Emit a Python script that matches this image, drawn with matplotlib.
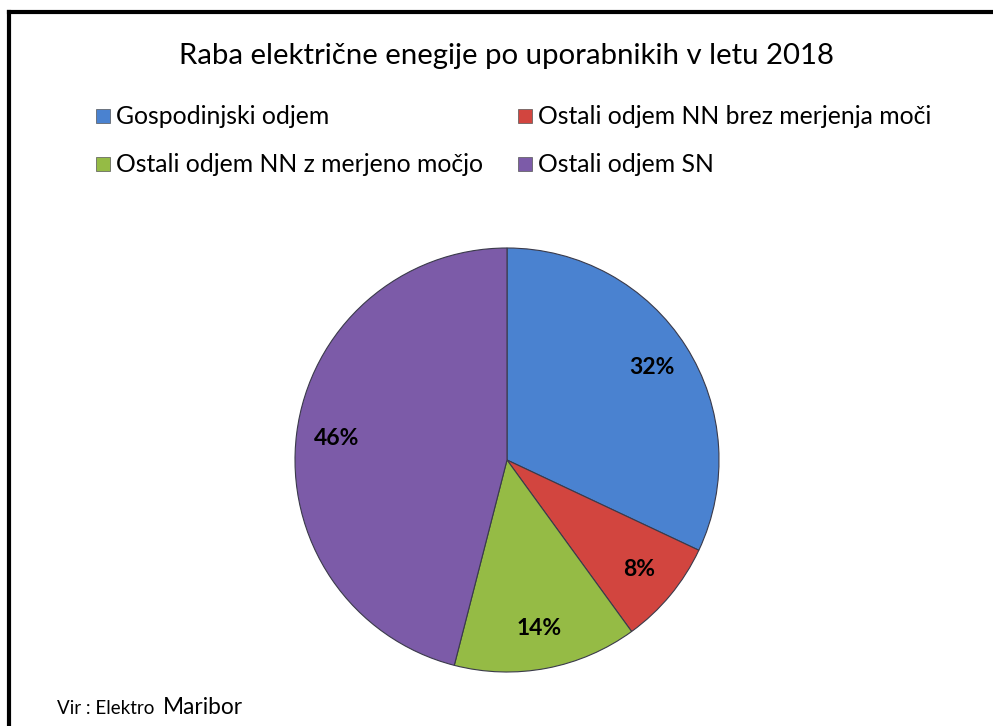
import matplotlib.pyplot as plt
from matplotlib.lines import Line2D
from matplotlib.patches import Rectangle

title = 'Raba električne enegije po uporabnikih v letu 2018'
categories = ['Gospodinjski odjem', 'Ostali odjem NN brez merjenja moči',
              'Ostali odjem NN z merjeno močjo', 'Ostali odjem SN']
shares = [32, 8, 14, 46]
colors = ['#4a82d0', '#d2453f', '#95bb45', '#7c5ba8']

W, H = 993, 726
plt.rcParams['font.family'] = ['Lato', 'DejaVu Sans']

fig = plt.figure(figsize=(W / 100, H / 100), dpi=100)

def fx(px):
    return px / W

def fy(py):
    return 1 - py / H

# frame (only top and left edge visible)
fig.add_artist(Line2D([fx(9), fx(W + 5)], [fy(12), fy(12)], color='black', lw=3, transform=fig.transFigure))
fig.add_artist(Line2D([fx(9), fx(9)], [fy(12), fy(H + 5)], color='black', lw=3, transform=fig.transFigure))

fig.text(fx(507), fy(56), title, ha='center', va='center', fontsize=21.2)

# legend
leg_pos = [(96, 116), (518, 116), (96, 164), (518, 164)]
for (x, y), cat, c in zip(leg_pos, categories, colors):
    fig.add_artist(Rectangle((fx(x), fy(y + 7)), fx(14), 14 / H, facecolor=c,
                             edgecolor='#555555', lw=0.5, transform=fig.transFigure))
    fig.text(fx(x + 20), fy(y), cat, ha='left', va='center', fontsize=17.8)

# pie
cx, cy, r = 507, 460, 212
ax = fig.add_axes([fx(cx - r), (H - cy - r) / H, 2 * r / W, 2 * r / H])
wedges, texts, autotexts = ax.pie(shares, colors=colors, startangle=90, counterclock=False,
                                  autopct='%1.0f%%', pctdistance=0.81, radius=1,
                                  wedgeprops=dict(edgecolor='#3a3a4a', linewidth=0.8))
for t in autotexts:
    t.set_fontsize(16.5)
    t.set_fontweight('bold')
ax.set_xlim(-1, 1)
ax.set_ylim(-1, 1)
ax.set_aspect('equal')
ax.axis('off')

fig.text(fx(57), fy(708), 'Vir : Elektro', ha='left', va='center', fontsize=13.5)
fig.text(fx(163), fy(707), 'Maribor', ha='left', va='center', fontsize=16.3)

fig.savefig('out.png', dpi=100)
